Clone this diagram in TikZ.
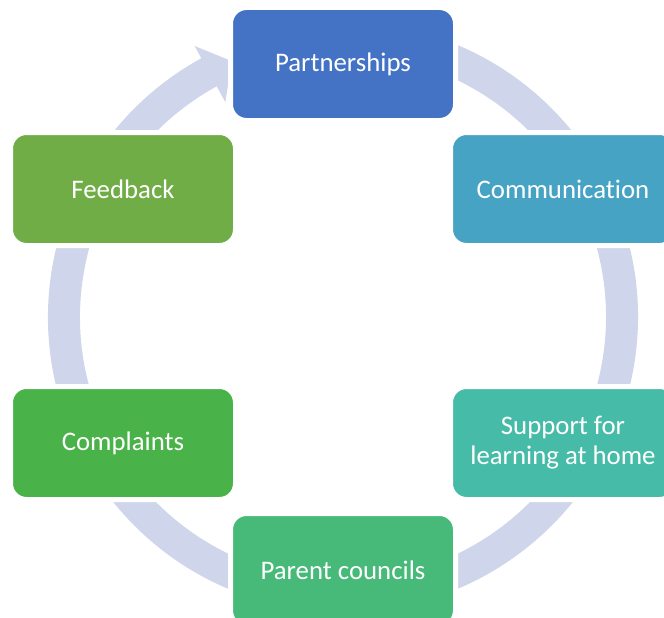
\documentclass[tikz,border=0pt]{standalone}
\usepackage{fontspec}
\setmainfont{Carlito}[Ligatures=NoCommon]
\definecolor{ringc}{HTML}{CFD5EA}
\definecolor{partc}{HTML}{4472C4}
\definecolor{commc}{HTML}{46A3C4}
\definecolor{suppc}{HTML}{46BCA8}
\definecolor{counc}{HTML}{47B978}
\definecolor{complc}{HTML}{49B249}
\definecolor{feedc}{HTML}{70AD47}

\begin{document}
\begin{tikzpicture}[x=1pt,y=1pt]
  \tikzstyle{box}=[rectangle,rounded corners=16pt,draw=white,line width=5pt,minimum width=225pt,minimum height=113pt,text=white,align=center,font=\fontsize{26.8}{30}\selectfont]
  \useasboundingbox (0,0) rectangle (664,-618);
  % the cycle arrow behind the boxes
  \fill[ringc,shift={(343,-317)}] (440:295) arc[start angle=440,end angle=118.7,radius=295]
    -- (118.7:309) -- (113.5:279) -- (118.7:245) -- (118.7:263)
    arc[start angle=118.7,end angle=440,radius=263] -- cycle;
  \node [box,fill=partc]  (part)    at (343,-64)  {Partnerships};
  \node [box,fill=commc]  (comm)    at (563,-189) {Communication};
  \node [box,fill=suppc]  (supp)    at (563,-443) {Support for\\learning at home};
  \node [box,fill=counc]  (council) at (343,-570) {Parent councils};
  \node [box,fill=complc] (compl)   at (123,-443) {Complaints};
  \node [box,fill=feedc]  (feed)    at (123,-189) {Feedback};
\end{tikzpicture}
\end{document}
